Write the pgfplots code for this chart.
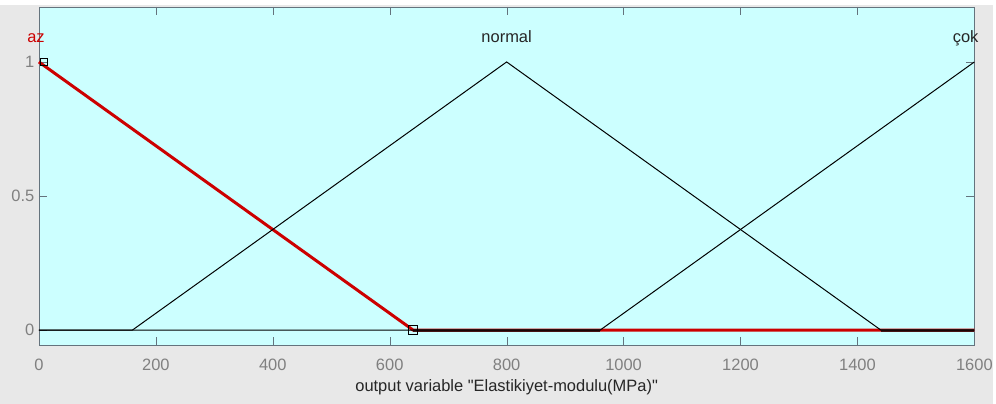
\documentclass[border=0pt]{standalone}
\usepackage{pgfplots}
\pgfplotsset{compat=1.18}
\usepackage{fontspec}
\setmainfont{Liberation Sans}
\setmonofont{Liberation Sans}
\definecolor{figgrey}{RGB}{232,232,232}
\definecolor{axcyan}{RGB}{204,255,255}
\definecolor{axline}{RGB}{100,115,125}
\definecolor{ticklab}{RGB}{128,128,128}
\definecolor{mfred}{RGB}{204,0,0}
\definecolor{dkred}{RGB}{70,20,20}
\begin{document}
\begin{tikzpicture}
\fill[figgrey] (-39pt,-59pt) rectangle (957pt,346pt);
\fill[white] (-39pt,341pt) rectangle (957pt,346pt);
\begin{axis}[
  scale only axis,
  width=938pt, height=339pt,
  xmin=0, xmax=1600, ymin=-0.056, ymax=1.205,
  axis background/.style={fill=axcyan},
  axis line style={axline},
  xtick={0,200,...,1600},
  ytick={0,0.5,1},
  yticklabels={0,0.5,1},
  tick style={axline},
  tick align=inside,
  major tick length=8pt,
  xtick pos=both, ytick pos=both,
  /pgf/number format/1000 sep={},
  /pgf/number format/assume math mode=true,
  tick label style={font=\fontsize{16.5}{19}\selectfont, text=ticklab},
  xticklabel style={yshift=-10pt},
  yticklabel style={xshift=-1pt},
  xlabel={output variable "Elastikiyet-modulu(MPa)"},
  xlabel style={font=\ttfamily\fontsize{16.5}{19}\selectfont, text=black!85, yshift=-3pt},
  clip=false,
]
\addplot[mfred, line width=3pt, line join=round] coordinates {(0,1) (640,0) (1600,0)};
\addplot[dkred, line width=3pt] coordinates {(640,0) (960,0)};
\addplot[dkred, line width=3pt] coordinates {(1440,0) (1600,0)};
\addplot[black, line width=1pt] coordinates {(0,0) (160,0) (800,1) (1440,0) (1600,0)};
\addplot[black, line width=1pt] coordinates {(0,0) (960,0) (1600,1)};
\addplot[black, only marks, mark=square, mark size=3.5pt, line width=1pt] coordinates {(8,1)};
\addplot[black, only marks, mark=square, mark size=4.5pt, line width=1pt] coordinates {(640,0)};
\node[mfred, font=\fontsize{16.5}{19}\selectfont] at (axis cs:-5,1.09) {az};
\node[black!85, font=\fontsize{16.5}{19}\selectfont] at (axis cs:800,1.095) {normal};
\node[black!85, font=\fontsize{16.5}{19}\selectfont] at (axis cs:1585,1.09) {çok};
\end{axis}
\end{tikzpicture}
\end{document}
